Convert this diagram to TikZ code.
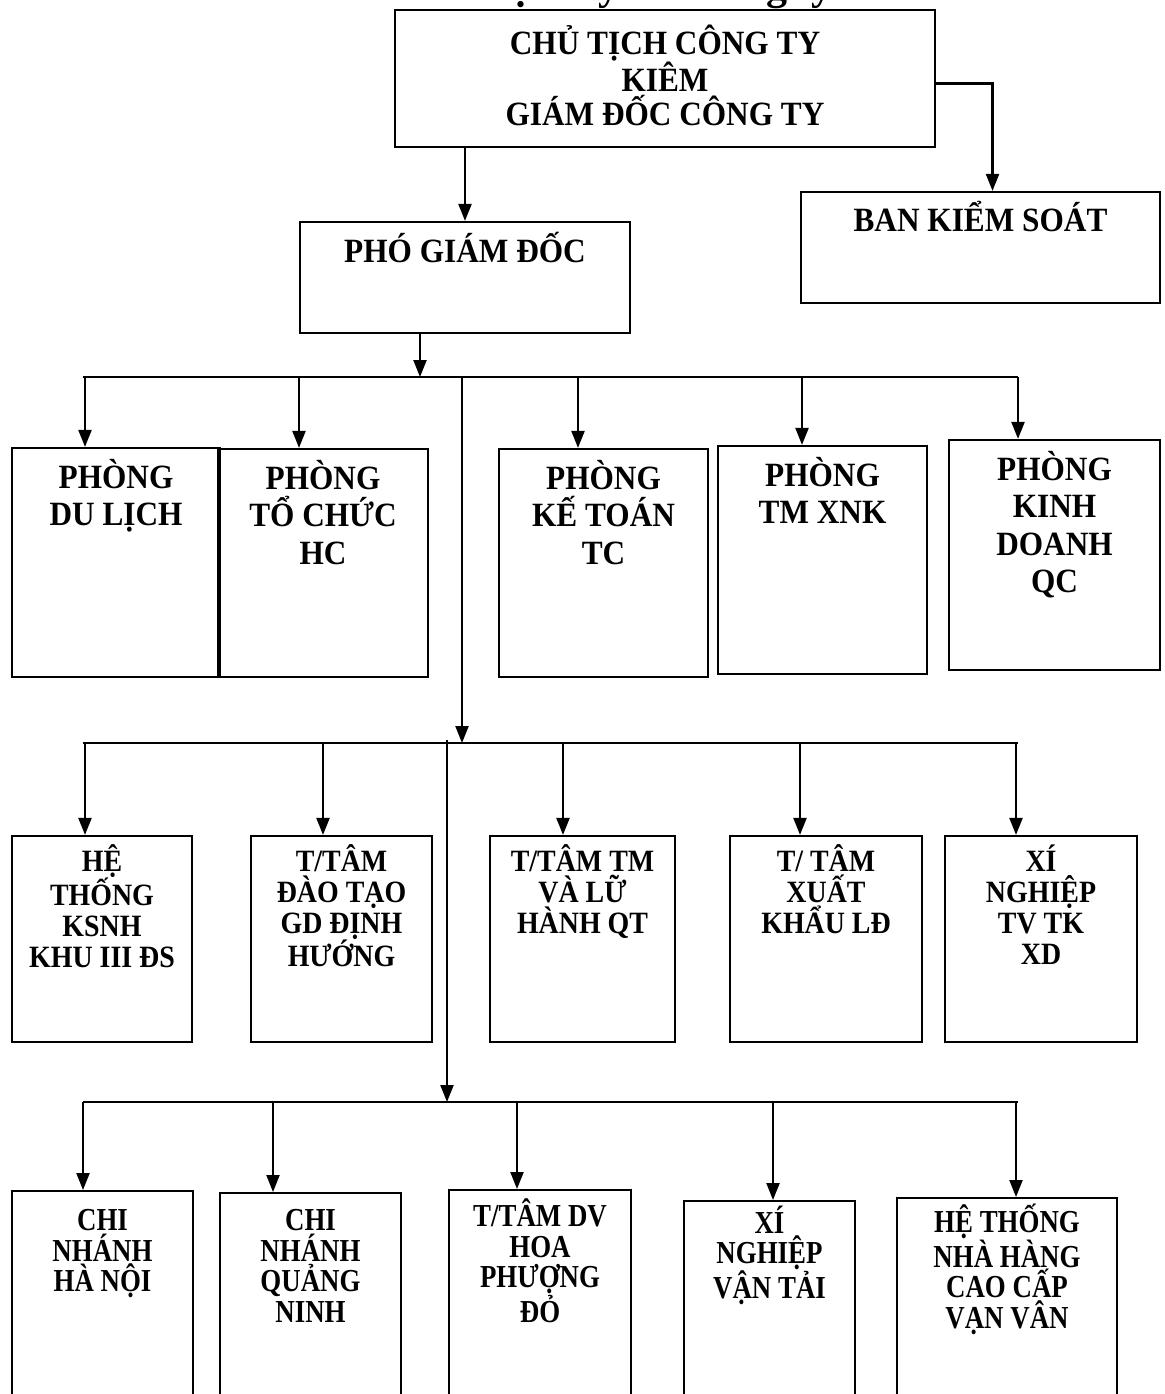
\documentclass[tikz,border=0pt]{standalone}
\usepackage{fontspec}
\setmainfont{Liberation Serif}
\newfontfamily\fonta[FakeStretch=0.92]{Liberation Serif}
\newfontfamily\fontc[FakeStretch=0.90]{Liberation Serif}
\newfontfamily\fontd[FakeStretch=0.84]{Liberation Serif}
\usetikzlibrary{arrows.meta}
\newcommand\st{\rule{0pt}{1em}}
\begin{document}
\begin{tikzpicture}[x=1pt,y=-1pt,
  box/.style={draw, line width=2.2pt, rectangle, inner sep=0pt},
  txta/.style={align=center, inner sep=0pt, anchor=north, font=\fonta\bfseries\fontsize{34}{34}\selectfont},
  txtb/.style={align=center, inner sep=0pt, anchor=north, font=\fonta\bfseries\fontsize{34}{37.5}\selectfont},
  txtc/.style={align=center, inner sep=0pt, anchor=north, font=\fontc\bfseries\fontsize{31}{31}\selectfont},
  txtd/.style={align=center, inner sep=0pt, anchor=north, font=\fontd\bfseries\fontsize{32}{30.5}\selectfont},
  ln/.style={line width=2.2pt},
  arr/.style={line width=2.2pt, -{Triangle[length=17pt,width=13pt]}}]
\useasboundingbox (0,0) rectangle (1164,1394);
\fill[white] (0,0) rectangle (1164,1394);

% clipped title (only descenders visible)
\node[anchor=base east, inner sep=0pt, font=\bfseries\fontsize{42}{44}\selectfont] (title) at (833,0) {Sơ đồ bộ máy của công ty};

% top level
\node[box, minimum width=540pt, minimum height=137pt] (chu) at (665,78.5) {};
\node[txta] (tchu) at ([yshift=-11pt]chu.north) {\st CHỦ TỊCH CÔNG TY\\KIÊM\\GIÁM ĐỐC CÔNG TY};
\node[box, minimum width=359pt, minimum height=111pt] (bks) at (980.5,247.5) {};
\node[txta] (tbks) at ([yshift=-6pt]bks.north) {\st BAN KIỂM SOÁT};
\node[box, minimum width=330pt, minimum height=111pt] (pgd) at (465,277.5) {};
\node[txta] (tpgd) at ([yshift=-7pt]pgd.north) {\st PHÓ GIÁM ĐỐC};

\draw[arr] ([yshift=-5pt]chu.east) -| ([xshift=12pt]bks.north);
\draw[arr] (pgd.north |- chu.south) -- (pgd.north);

% row 1
\node[box, minimum width=208pt, minimum height=229pt] (r1a) at (116,562.5) {};
\node[box, minimum width=210pt, minimum height=228pt] (r1b) at (323,563) {};
\node[box, minimum width=209pt, minimum height=228pt] (r1c) at (603.5,563) {};
\node[box, minimum width=209pt, minimum height=228pt] (r1d) at (822.5,560) {};
\node[box, minimum width=211pt, minimum height=230pt] (r1e) at (1054.5,555) {};
\node[txtb] (t1a) at ([yshift=-7pt]r1a.north) {\st PHÒNG\\DU LỊCH};
\node[txtb] (t1b) at ([yshift=-7pt]r1b.north) {\st PHÒNG\\TỔ CHỨC\\HC};
\node[txtb] (t1c) at ([yshift=-7pt]r1c.north) {\st PHÒNG\\KẾ TOÁN\\TC};
\node[txtb] (t1d) at ([yshift=-7pt]r1d.north) {\st PHÒNG\\TM XNK};
\node[txtb] (t1e) at ([yshift=-7pt]r1e.north) {\st PHÒNG\\KINH\\DOANH\\QC};

\coordinate (b1L) at (83,377);
\coordinate (b1R) at (1018,377);
\coordinate (b1in) at (420,377);
\draw[ln] (b1L) -- (b1R);
\draw[arr] (pgd.south -| b1in) -- (b1in);
\foreach \x/\n in {85/r1a, 299/r1b, 578/r1c, 802/r1d, 1018/r1e}
  \draw[arr] (\x,377) -- (\x,0 |- \n.north);

% trunk to row 2
\coordinate (tr1) at (462,377);
\coordinate (b2in) at (462,743);
\draw[arr] (tr1) -- (b2in);
\coordinate (b2L) at (83,743);
\coordinate (b2R) at (1018,743);
\draw[ln] (b2L) -- (b2R);

% row 2
\node[box, minimum width=180pt, minimum height=206pt] (r2a) at (102,939) {};
\node[box, minimum width=181pt, minimum height=206pt] (r2b) at (341.5,939) {};
\node[box, minimum width=185pt, minimum height=206pt] (r2c) at (582.5,939) {};
\node[box, minimum width=192pt, minimum height=206pt] (r2d) at (826,939) {};
\node[box, minimum width=192pt, minimum height=206pt] (r2e) at (1041,939) {};
\node[txtc] (t2a) at ([yshift=-5pt]r2a.north) {\st HỆ\\THỐNG\\KSNH\\KHU III ĐS};
\node[txtc] (t2b) at ([yshift=-5pt]r2b.north) {\st T/TÂM\\ĐÀO TẠO\\GD ĐỊNH\\HƯỚNG};
\node[txtc] (t2c) at ([yshift=-5pt]r2c.north) {\st T/TÂM TM\\VÀ LỮ\\HÀNH QT};
\node[txtc] (t2d) at ([yshift=-5pt]r2d.north) {\st T/ TÂM\\XUẤT\\KHẨU LĐ};
\node[txtc] (t2e) at ([yshift=-5pt]r2e.north) {\st XÍ\\NGHIỆP\\TV TK\\XD};
\foreach \x/\n in {85/r2a, 323/r2b, 563/r2c, 800/r2d, 1016/r2e}
  \draw[arr] (\x,743) -- (\x,0 |- \n.north);

% trunk to row 3
\coordinate (tr2) at (447,740);
\coordinate (b3in) at (447,1102);
\draw[arr] (tr2) -- (b3in);
\coordinate (b3L) at (83,1102);
\coordinate (b3R) at (1018,1102);
\draw[ln] (b3L) -- (b3R);

% row 3 (cut by bottom edge)
\node[box, minimum width=181pt, minimum height=240pt, anchor=north] (r3a) at (102.5,1190) {};
\node[box, minimum width=181pt, minimum height=240pt, anchor=north] (r3b) at (310.5,1192) {};
\node[box, minimum width=182pt, minimum height=240pt, anchor=north] (r3c) at (540,1189) {};
\node[box, minimum width=171pt, minimum height=240pt, anchor=north] (r3d) at (769.5,1200) {};
\node[box, minimum width=220pt, minimum height=240pt, anchor=north] (r3e) at (1007,1197) {};
\node[txtd] (t3a) at ([yshift=-8.5pt]r3a.north) {\st CHI\\NHÁNH\\HÀ NỘI};
\node[txtd] (t3b) at ([yshift=-6.5pt]r3b.north) {\st CHI\\NHÁNH\\QUẢNG\\NINH};
\node[txtd] (t3c) at ([yshift=-5.5pt]r3c.north) {\st T/TÂM DV\\HOA\\PHƯỢNG\\ĐỎ};
\node[txtd] (t3d) at ([yshift=-1pt]r3d.north) {\st XÍ\\NGHIỆP\\VẬN TẢI};
\node[txtd] (t3e) at ([yshift=-3.5pt]r3e.north) {\st HỆ THỐNG\\NHÀ HÀNG\\CAO CẤP\\VẠN VÂN};
\foreach \x/\n in {83/r3a, 273/r3b, 517/r3c, 773/r3d, 1016/r3e}
  \draw[arr] (\x,1102) -- (\x,0 |- \n.north);
\end{tikzpicture}
\end{document}
